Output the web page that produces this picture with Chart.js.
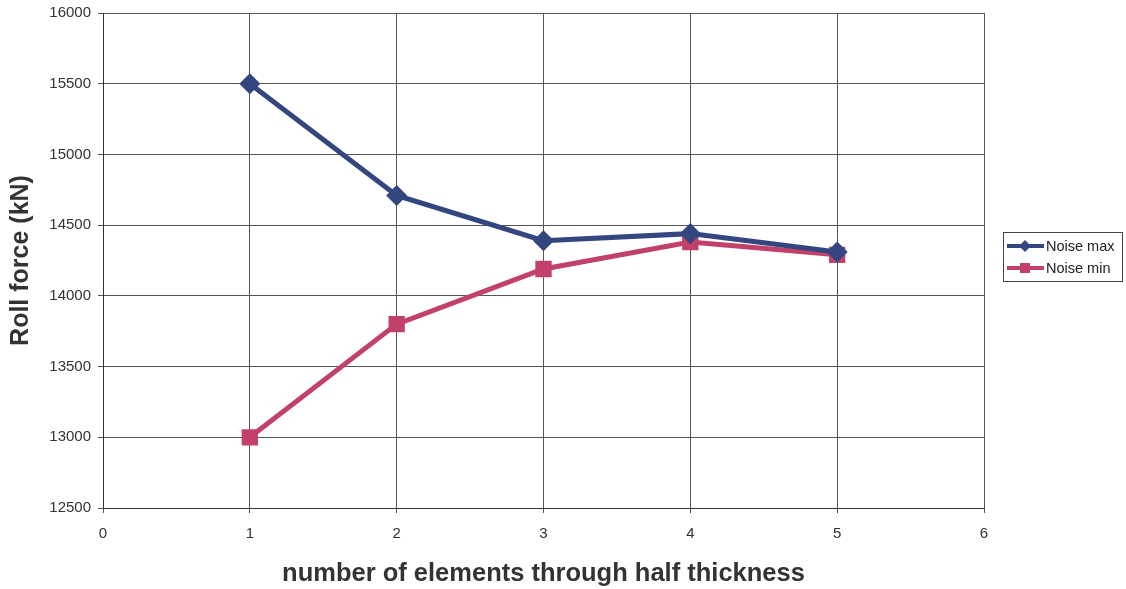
<!DOCTYPE html>
<html>
<head>
<meta charset="utf-8">
<script src="https://cdn.jsdelivr.net/npm/chart.js@4/dist/chart.umd.min.js"></script>
<style>
  html, body { margin: 0; padding: 0; background: #fff; }
  #wrap { width: 1126px; height: 589px; position: relative; }
</style>
</head>
<body>
<div id="wrap"><canvas id="myChart"></canvas></div>
<script>
var elements = [1, 2, 3, 4, 5];
var noiseMax = [15500, 14710, 14390, 14440, 14310];
var noiseMin = [13000, 13800, 14190, 14380, 14290];
var seriesNames = ['Noise max', 'Noise min'];

var blue = '#34467f';
var pink = '#c2416b';

function pts(ys) {
  return elements.map(function (x, i) { return { x: x, y: ys[i] }; });
}

// legend with line + marker and a thin frame, like the old spreadsheet style
var boxLegend = {
  id: 'boxLegend',
  afterDraw: function (chart) {
    var c = chart.ctx;
    var x0 = 1003, y0 = 232, w = 119, h = 49;
    c.save();
    c.strokeStyle = '#444';
    c.lineWidth = 1;
    c.strokeRect(x0 + 0.5, y0 + 0.5, w, h);
    c.font = '14.5px "Liberation Sans", Arial, sans-serif';
    c.textBaseline = 'middle';
    chart.data.datasets.forEach(function (ds, i) {
      var y = y0 + 14 + i * 22;
      c.strokeStyle = ds.borderColor;
      c.lineWidth = 4;
      c.beginPath();
      c.moveTo(x0 + 4, y);
      c.lineTo(x0 + 41, y);
      c.stroke();
      c.fillStyle = ds.borderColor;
      c.beginPath();
      if (ds.pointStyle === 'rectRot') {
        c.moveTo(x0 + 22, y - 6); c.lineTo(x0 + 28, y);
        c.lineTo(x0 + 22, y + 6); c.lineTo(x0 + 16, y);
        c.closePath();
      } else {
        c.rect(x0 + 17, y - 5, 10, 10);
      }
      c.fill();
      c.fillStyle = '#222';
      c.fillText(ds.label, x0 + 43, y + 1);
    });
    c.restore();
  }
};

var tickFont = { family: '"Liberation Sans", Arial, sans-serif', size: 15 };

var ctx = document.getElementById('myChart');
var myChart = new Chart(ctx, {
  type: 'line',
  data: {
    datasets: [{
      label: seriesNames[0],
      data: pts(noiseMax),
      borderColor: blue,
      backgroundColor: blue,
      borderWidth: 5,
      pointStyle: 'rectRot',
      pointRadius: 7,
      pointHoverRadius: 7,
      tension: 0
    }, {
      label: seriesNames[1],
      data: pts(noiseMin),
      borderColor: pink,
      backgroundColor: pink,
      borderWidth: 5,
      pointStyle: 'rect',
      pointRadius: 8,
      pointHoverRadius: 8,
      tension: 0
    }]
  },
  options: {
    responsive: true,
    maintainAspectRatio: false,
    animation: false,
    layout: { padding: { left: 0, right: 142, top: 13, bottom: 0 } },
    scales: {
      x: {
        type: 'linear',
        min: 0,
        max: 6,
        afterFit: function (s) { s.height = 81; },
        ticks: {
          stepSize: 1,
          color: '#333',
          padding: 12,
          font: tickFont,
          callback: function (v) { return String(v); }
        },
        grid: { color: '#555', lineWidth: 1, tickLength: 5, drawTicks: true },
        border: { color: '#333', width: 1 },
        title: {
          display: true,
          text: 'number of elements through half thickness',
          color: '#333',
          padding: { top: 0, bottom: 0 },
          font: { family: '"Liberation Sans", Arial, sans-serif', size: 25.5, weight: 'bold' }
        }
      },
      y: {
        min: 12500,
        max: 16000,
        afterFit: function (s) { s.width = 103; s.paddingTop = 0; s.paddingBottom = 0; },
        ticks: {
          stepSize: 500,
          color: '#333',
          padding: 7,
          font: tickFont,
          callback: function (v) { return String(v); }
        },
        grid: { color: '#555', lineWidth: 1, tickLength: 5 },
        border: { color: '#333', width: 1 },
        title: {
          display: true,
          text: 'Roll force (kN)',
          color: '#333',
          padding: { top: 6, bottom: 0 },
          font: { family: '"Liberation Sans", Arial, sans-serif', size: 25, weight: 'bold' }
        }
      }
    },
    plugins: {
      legend: { display: false },
      tooltip: { enabled: false }
    }
  },
  plugins: [boxLegend]
});
</script>
</body>
</html>
